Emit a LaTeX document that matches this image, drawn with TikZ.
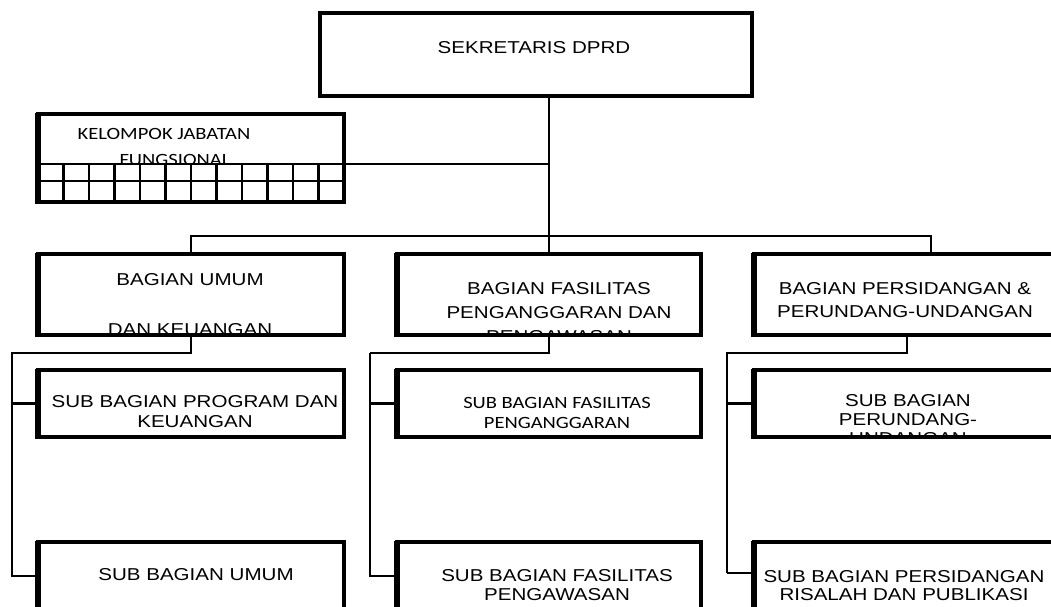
\documentclass[tikz,border=0pt]{standalone}
\usepackage{fontspec}
\newfontfamily\arw[FakeStretch=1.195]{Liberation Sans}
\newfontfamily\caw[FakeStretch=1.195]{Carlito}
\tikzset{
  orgbox/.style={draw, rectangle, line width=3.8pt, inner sep=0pt, outer sep=0pt},
  topbox/.style={orgbox, line width=4.2pt},
  leftedge/.style={line width=5.2pt},
  grid/.style={line width=2.8pt},
  conn/.style={line width=2.8pt},
  thinconn/.style={line width=1.2pt},
  lblA/.style={anchor=north, inner sep=0pt, align=center, font=\arw\fontsize{17.2}{24}\selectfont},
  lblS/.style={anchor=north, inner sep=0pt, align=center, font=\arw\fontsize{17.2}{19}\selectfont},
  lblC/.style={anchor=north, inner sep=0pt, align=center, font=\caw\fontsize{17.2}{20}\selectfont},
}
\begin{document}
\begin{tikzpicture}[x=1pt,y=-1pt]
\useasboundingbox (0,0) rectangle (1051,606);
\clip (0,0) rectangle (1051,606);

% boxes
\node[topbox, minimum width=432pt, minimum height=83pt] (sek) at (536,54.5) {};
\node[orgbox, minimum width=306pt, minimum height=88pt] (kel) at (191,158) {};
\node[orgbox, minimum width=306pt, minimum height=81pt] (umum) at (191,294.5) {};
\node[orgbox, minimum width=304pt, minimum height=81pt] (fas) at (549,294.5) {};
\node[orgbox, minimum width=311pt, minimum height=81pt] (per) at (909.5,294.5) {};
\node[orgbox, minimum width=306pt, minimum height=67pt] (s1) at (191,403.5) {};
\node[orgbox, minimum width=306pt, minimum height=108pt] (s2) at (191,596) {};
\node[orgbox, minimum width=304pt, minimum height=67pt] (s3) at (549,403.5) {};
\node[orgbox, minimum width=304pt, minimum height=108pt] (s4) at (549,596) {};
\node[orgbox, minimum width=311pt, minimum height=67pt] (s5) at (909.5,403.5) {};
\node[orgbox, minimum width=311pt, minimum height=108pt] (s6) at (909.5,596) {};

% thicker left edges
\foreach \b in {kel,umum,fas,per,s1,s2,s3,s4,s5,s6}
  \draw[leftedge] ([yshift=1.5pt]\b.north west) -- ([yshift=-1.5pt]\b.south west);

% grid of the functional group box
\path (kel.north east) ++(0,50) coordinate (kg);
\path (kel.north west) ++(0,67) coordinate (kg2);
\draw[grid] (kg -| kel.west) -- (kg);
\draw[grid] (kg2) -- (kg2 -| kel.east);
\foreach \i in {1,...,11}
  \draw[grid] ([xshift=\i*25.5pt]kg -| kel.west) -- ([xshift=\i*25.5pt]kel.south west);

% texts (clipped to their boxes)
\node[lblA] (tsek) at (534,41.7) {SEKRETARIS DPRD};
\begin{scope}
  \clip (kel.north west) rectangle (kg);
  \node[lblC] (tkel1) at (164,127.9) {KELOMPOK JABATAN};
  \node[lblC] (tkel2) at (175,153.9) {FUNGSIONAL};
\end{scope}
\begin{scope}
  \clip (umum.north west) rectangle (umum.south east);
  \node[lblA] (tumum) at (190,273.7) {BAGIAN UMUM\\[26pt]DAN KEUANGAN};
\end{scope}
\begin{scope}
  \clip (fas.north west) rectangle (fas.south east);
  \node[lblA] (tfas) at (559,282.7) {BAGIAN FASILITAS\\PENGANGGARAN DAN\\PENGAWASAN};
\end{scope}
\begin{scope}
  \clip (per.north west) rectangle (per.south east);
  \node[lblA, font=\arw\fontsize{17.2}{23}\selectfont] (tper) at (905,282.7) {BAGIAN PERSIDANGAN \&\\PERUNDANG-UNDANGAN};
\end{scope}
\begin{scope}
  \clip (s1.north west) rectangle (s1.south east);
  \node[lblS, font=\arw\fontsize{17.2}{20}\selectfont] (ts1) at (195,395.7) {SUB BAGIAN PROGRAM DAN\\KEUANGAN};
\end{scope}
\node[lblS] (ts2) at (196,568.2) {SUB BAGIAN UMUM};
\begin{scope}
  \clip (s3.north west) rectangle (s3.south east);
  \node[lblC] (ts3) at (557,397.4) {SUB BAGIAN FASILITAS\\PENGANGGARAN};
\end{scope}
\node[lblS, font=\arw\fontsize{17.2}{18.5}\selectfont] (ts4) at (557,569.7) {SUB BAGIAN FASILITAS\\PENGAWASAN};
\begin{scope}
  \clip (s5.north west) rectangle (s5.south east);
  \node[lblS] (ts5) at (908,394.7) {SUB BAGIAN\\PERUNDANG-\\UNDANGAN};
\end{scope}
\node[lblS, font=\arw\fontsize{17.2}{18}\selectfont] (ts6) at (904,570.7) {SUB BAGIAN PERSIDANGAN\\RISALAH DAN PUBLIKASI};

% connectors
\draw[conn] (sek.south -| fas.north) -- (fas.north);
\draw[conn] (kg) -- (kg -| fas.north);
\path (per.north west) ++(177,0) coordinate (perin);
\draw[conn] (umum.north) -- ++(0,-18) -| (perin);

\coordinate (lb1) at (12,577);
\draw[conn] (umum.south) -- ++(0,18) -| (lb1);
\draw[conn] (s1.west -| lb1) -- (s1.west);
\path (s2.north west) ++(0,34) coordinate (s2in);
\draw[conn] (s2in -| lb1) -- (s2in);

\coordinate (mb1) at (370,577);
\draw[conn] (fas.south) -- ++(0,18) coordinate (mk) -- (mk -| mb1);
\draw[thinconn] (mk -| mb1) -- (mb1);
\draw[conn] (s3.west -| mb1) -- (s3.west);
\path (s4.north west) ++(0,34) coordinate (s4in);
\draw[conn] (s4in -| mb1) -- (s4in);

\path (per.south west) ++(153,0) coordinate (perout);
\coordinate (rb1) at (727,573);
\draw[conn] (perout) -- ++(0,18) -| (rb1);
\draw[conn] (s5.west -| rb1) -- (s5.west);
\path (s6.north west) ++(0,31) coordinate (s6in);
\draw[conn] (s6in -| rb1) -- (s6in);
\end{tikzpicture}
\end{document}
